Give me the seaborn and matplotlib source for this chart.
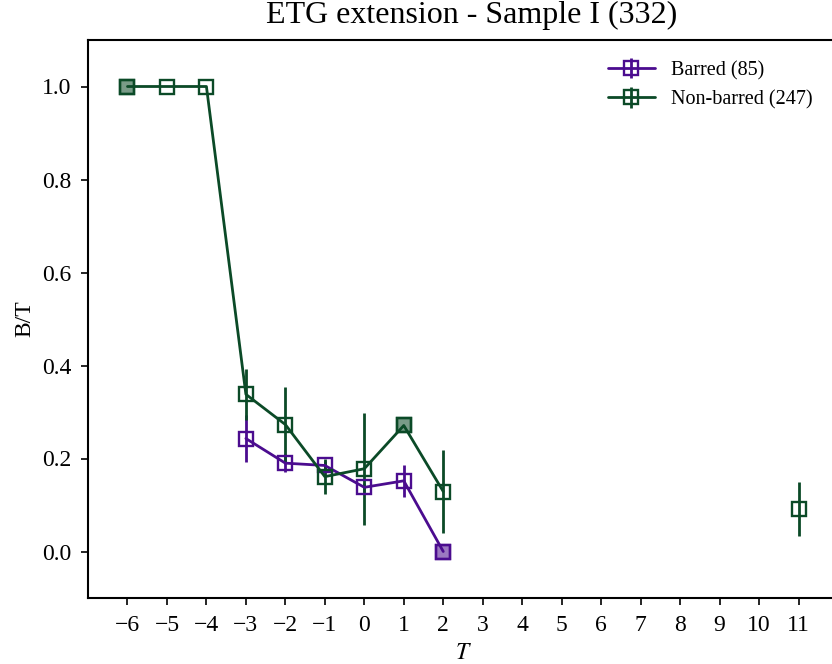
import numpy as np
import matplotlib
matplotlib.use("Agg")
import matplotlib.pyplot as plt
import seaborn as sns

# ---- data ----
T_values = list(range(-6, 12))
nan = np.nan
barred_bt = [nan, nan, nan, 0.243, 0.190, 0.185, 0.138, 0.152, 0.000,
             nan, nan, nan, nan, nan, nan, nan, nan, nan]
barred_err = [nan, nan, nan, 0.050, 0.020, 0.010, 0.010, 0.035, 0.000,
              nan, nan, nan, nan, nan, nan, nan, nan, nan]
barred_single = [False, False, False, False, False, False, False, False, True,
                 False, False, False, False, False, False, False, False, False]

nonbarred_bt = [1.000, 1.000, 1.000, 0.338, 0.273, 0.161, 0.178, 0.271, 0.129,
                nan, nan, nan, nan, nan, nan, nan, nan, 0.092]
nonbarred_err = [0.000, 0.000, 0.000, 0.055, 0.080, 0.037, 0.120, 0.000, 0.090,
                 nan, nan, nan, nan, nan, nan, nan, nan, 0.058]
nonbarred_single = [True, False, False, False, False, False, False, True, False,
                    False, False, False, False, False, False, False, False, False]

series = [
    ("Barred (85)", barred_bt, barred_err, barred_single, "#4b0c8f"),
    ("Non-barred (247)", nonbarred_bt, nonbarred_err, nonbarred_single, "#0b4a27"),
]

title = "ETG extension - Sample I (332)"

# ---- style ----
sns.set_style("ticks")
plt.rcParams["font.family"] = ["Liberation Serif", "DejaVu Serif"]
plt.rcParams["mathtext.fontset"] = "stix"
plt.rcParams["xtick.labelsize"] = 17
plt.rcParams["ytick.labelsize"] = 17
plt.rcParams["xtick.color"] = "black"
plt.rcParams["ytick.color"] = "black"
plt.rcParams["text.color"] = "black"
plt.rcParams["axes.labelcolor"] = "black"

fig = plt.figure(figsize=(8.32, 6.64), dpi=100)
ax = fig.add_axes([88 / 832, 66 / 664, 750 / 832, 558 / 664])

x = np.array(T_values, dtype=float)
for label, y, e, single, color in series:
    y = np.array(y, dtype=float)
    e = np.array(e, dtype=float)
    ax.errorbar(x, y, yerr=e, color=color, lw=2.0, elinewidth=2.0,
                marker="s", ms=10, mfc="none", mec=color, mew=1.7,
                capsize=0, label=label)
    s = np.array(single)
    sns.scatterplot(x=x[s], y=y[s], ax=ax, marker="s", s=100,
                    color=color, alpha=0.55, edgecolor="none", legend=False)
    ax.plot(x[s], y[s], ls="none", marker="s", ms=10, mfc="none",
            mec=color, mew=1.7)

ax.set_xlim(-7, 12)
ax.set_ylim(-0.1, 1.1)
ax.set_xticks(T_values)
ax.set_yticks([0.0, 0.2, 0.4, 0.6, 0.8, 1.0])
ax.set_xlabel("$T$", fontsize=17, labelpad=5)
ax.set_ylabel("B/T", fontsize=17, labelpad=5)
ax.set_title(title, fontsize=23, pad=12, x=0.511)
for sp in ax.spines.values():
    sp.set_linewidth(1.5)
    sp.set_color("black")
ax.tick_params(width=1.2, length=5, color="black", pad=7)

ax.legend(loc="upper right", bbox_to_anchor=(0.99, 0.995), frameon=False,
          fontsize=14.5, handlelength=2.3)

fig.savefig("out.png", dpi=100)
